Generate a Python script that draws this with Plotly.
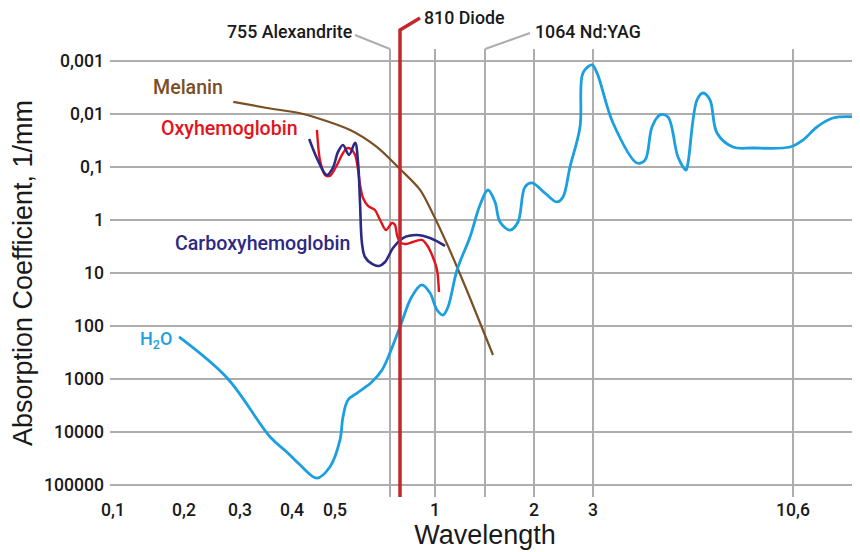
import numpy as np
import plotly.graph_objects as go

# ---- warped wavelength scale of the original illustration (breakpoints) ----
AXIS_WL = [0.1, 0.2, 0.3, 0.4, 0.5, 0.755, 0.81, 1.0, 1.064, 2.0, 3.0, 10.6, 13.15]
AXIS_POS = [0, 71, 127, 179, 222, 277, 287, 322, 372, 421, 480, 680, 747]

def wl_to_pos(wl):
    return np.interp(np.asarray(wl, dtype=float), AXIS_WL, AXIS_POS)

# ---- tick labels ----
X_TICK_WL = [0.1, 0.2, 0.3, 0.4, 0.5, 1, 2, 3, 10.6]
X_TICK_TEXT = ["0,1", "0,2", "0,3", "0,4", "0,5", "1", "2", "3", "10,6"]
X_GRID_WL = [0.755, 1, 1.064, 2, 3, 10.6]
Y_TICK_VALS = [1e-3, 1e-2, 1e-1, 1, 10, 100, 1000, 10000, 100000]
Y_TICK_TEXT = ["0,001", "0,01", "0,1", "1", "10", "100", "1000", "10000", "100000"]

# ---- lasers ----
LASER_WL = [0.755, 0.81, 1.064]
LASER_NAMES = ["755 Alexandrite", "810 Diode", "1064 Nd:YAG"]

# ---- series (wavelength in µm, absorption coefficient in 1/mm) ----
MELANIN_WL = [0.288, 0.352, 0.426, 0.570, 0.695, 0.81, 0.919, 0.989, 1.0154, 1.0282, 1.0448, 1.217]
MELANIN_MU = [0.0059, 0.0077, 0.010, 0.020, 0.042, 0.109, 0.27, 0.77, 2.84, 7.7, 29.6, 352]

OXY_WL = [0.458, 0.465, 0.477, 0.488, 0.509, 0.532, 0.556, 0.574, 0.593, 0.607, 0.616, 0.630,
          0.653, 0.685, 0.709, 0.736, 0.766, 0.7825, 0.7935, 0.81, 0.837, 0.880, 0.929, 0.956,
          0.984, 1.0026, 1.0051]
OXY_MU = [0.020, 0.074, 0.142, 0.148, 0.092, 0.059, 0.044, 0.046, 0.059, 0.114, 0.219, 0.385,
          0.544, 0.647, 1.0, 1.55, 1.14, 1.24, 1.92, 2.60, 2.84, 2.60, 2.38, 2.96,
          4.57, 8.78, 22.8]

CARBOXY_WL = [0.440, 0.460, 0.481, 0.495, 0.514, 0.537, 0.565, 0.593, 0.607, 0.616, 0.625,
              0.639, 0.672, 0.704, 0.732, 0.7715, 0.826, 0.902, 0.973, 1.0128]
CARBOXY_MU = [0.0296, 0.074, 0.142, 0.104, 0.052, 0.0385, 0.059, 0.035, 0.084, 0.478, 2.72,
              4.99, 6.76, 7.38, 6.2, 3.38, 2.19, 1.92, 2.19, 3.09]

H2O_WL = [0.193, 0.277, 0.358, 0.390, 0.419, 0.458, 0.488, 0.523, 0.537, 0.560, 0.602, 0.671,
          0.718, 0.741, 0.81, 0.873, 0.928, 0.973, 1.0026, 1.0102, 1.0166, 1.0282, 1.0448,
          1.0576, 1.121, 1.255, 1.351, 1.542, 1.694, 1.828, 1.962, 2.186, 2.390, 2.492, 2.610,
          2.780, 2.831, 2.983, 3.152, 3.76, 4.672, 4.976, 5.242, 5.546, 5.85, 6.23, 6.534,
          6.61, 6.952, 7.18, 7.446, 7.712, 8.32, 9.08, 10.486, 10.98, 11.51, 12.12, 13.15]
H2O_MU = [161, 957, 12400, 23800, 42000, 73800, 45700, 14200, 5210, 2490, 1840, 1140,
          676, 438, 104, 28.4, 16.8, 23.8, 49.9, 62, 43.8, 8.78, 2.09,
          0.521, 0.272, 0.457, 1.09, 1.55, 1.09, 0.238, 0.200, 0.31, 0.457, 0.368, 0.1,
          0.0176, 0.00168, 0.00119, 0.00168, 0.0148, 0.084, 0.074, 0.0176, 0.0104, 0.0114, 0.0648, 0.114,
          0.084, 0.00544, 0.00402, 0.00544, 0.0228, 0.042, 0.0438, 0.042, 0.031, 0.0176, 0.0119, 0.0114]

C_H2O = "#1b9fdf"
C_OXY = "#e5121b"
C_CARB = "#2c2a82"
C_MEL = "#7a4f24"
C_DIODE = "#c1272d"
C_GRID = "#adadad"
C_TEXT = "#1a1a1a"
FONT = "Roboto"
TITLE_FONT = "Liberation Sans"

fig = go.Figure()

def add_curve(wl, mu, color, width, smooth=1.0):
    fig.add_trace(go.Scatter(x=wl_to_pos(wl), y=mu, mode="lines",
                             line=dict(color=color, width=width, shape="spline", smoothing=smooth),
                             hoverinfo="skip", showlegend=False))

add_curve(MELANIN_WL, MELANIN_MU, C_MEL, 2.2, 0.8)
add_curve(H2O_WL, H2O_MU, C_H2O, 2.8, 1.0)
add_curve(OXY_WL, OXY_MU, C_OXY, 2.4, 0.8)
add_curve(CARBOXY_WL, CARBOXY_MU, C_CARB, 2.6, 1.0)

x_range = [-3, 747]
tick_font = dict(size=17.6, family=FONT, weight=500, color=C_TEXT)

# the page places the figure 8 px from its top-left corner, so the figure is 8 px smaller
fig.update_layout(
    width=852, height=544,
    margin=dict(l=102, r=0, t=41, b=55, autoexpand=False),
    paper_bgcolor="white", plot_bgcolor="white",
    font=dict(family=FONT, color=C_TEXT),
    xaxis=dict(range=x_range, tickmode="array", tickvals=wl_to_pos(X_TICK_WL).tolist(),
               ticktext=X_TICK_TEXT, showgrid=False, zeroline=False, showline=False, ticks="",
               automargin=False, tickfont=tick_font,
               title=dict(text="Wavelength", font=dict(size=27, family=TITLE_FONT, color=C_TEXT),
                          standoff=4)),
    xaxis2=dict(range=x_range, overlaying="x", side="bottom", tickmode="array",
                tickvals=wl_to_pos(X_GRID_WL).tolist(), showticklabels=False, ticks="",
                automargin=False,
                showgrid=True, gridcolor=C_GRID, gridwidth=2, zeroline=False, showline=False),
    yaxis=dict(type="log", range=[5.226, -3.226], tickmode="array", tickvals=Y_TICK_VALS,
               ticktext=Y_TICK_TEXT, showgrid=True, gridcolor=C_GRID, gridwidth=2,
               zeroline=False, showline=False, ticks="", automargin=False,
               ticklabelstandoff=5, tickfont=tick_font,
               title=dict(text="Absorption Coefficient, 1/mm",
                          font=dict(size=27, family=TITLE_FONT, color=C_TEXT), standoff=8)),
)

# invisible trace so the overlay axis is rendered
fig.add_trace(go.Scatter(x=[x_range[0]], y=[1], xaxis="x2", mode="markers",
                         marker=dict(opacity=0), hoverinfo="skip", showlegend=False))

# laser leader lines and labels
alex_x, diode_x, yag_x = wl_to_pos(LASER_WL).tolist()
shapes = [
    dict(type="path", xref="x", xsizemode="pixel", xanchor=alex_x,
         yref="paper", ysizemode="pixel", yanchor=1, path="M0,0 L-35,14",
         line=dict(color=C_GRID, width=2)),
    dict(type="path", xref="x", xsizemode="pixel", xanchor=yag_x,
         yref="paper", ysizemode="pixel", yanchor=1, path="M0,0 L45,16",
         line=dict(color=C_GRID, width=2)),
    dict(type="path", xref="x", xsizemode="pixel", xanchor=diode_x,
         yref="paper", ysizemode="pixel", yanchor=0, path="M0,0 L0,467 L20,479",
         line=dict(color=C_DIODE, width=3.5), layer="above"),
]
fig.update_layout(shapes=shapes)

lab_font = dict(size=17.8, family=FONT, weight=500, color=C_TEXT)
fig.add_annotation(x=alex_x, xref="x", y=1, yref="paper", text=LASER_NAMES[0], showarrow=False,
                   xanchor="right", yanchor="middle", xshift=-36, yshift=18, font=lab_font)
fig.add_annotation(x=diode_x, xref="x", y=1, yref="paper", text=LASER_NAMES[1], showarrow=False,
                   xanchor="left", yanchor="middle", xshift=22, yshift=32, font=lab_font)
fig.add_annotation(x=yag_x, xref="x", y=1, yref="paper", text=LASER_NAMES[2], showarrow=False,
                   xanchor="left", yanchor="middle", xshift=48, yshift=18, font=lab_font)

# curve labels
def curve_label(text, px, py, color, size=19.6):
    fig.add_annotation(x=(px - 110) / 750, xref="paper", y=(497 - py) / 448, yref="paper",
                       text=text, showarrow=False, xanchor="left", yanchor="middle",
                       font=dict(size=size, family=FONT, weight=500, color=color))

curve_label("Melanin", 151, 88, C_MEL)
curve_label("Oxyhemoglobin", 159, 128, C_OXY)
curve_label("Carboxyhemoglobin", 173, 243, C_CARB)
curve_label("H<sub>2</sub>O", 138, 340, C_H2O, 18)

fig.write_html("out.html")
